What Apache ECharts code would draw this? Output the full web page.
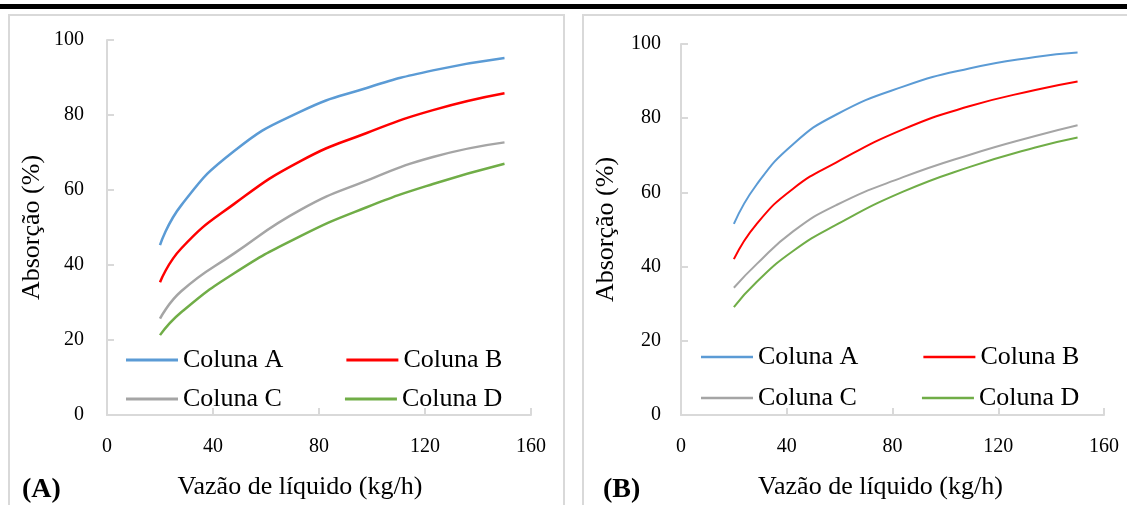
<!DOCTYPE html>
<html>
<head>
<meta charset="utf-8">
<script src="https://cdn.jsdelivr.net/npm/echarts@6/dist/echarts.min.js"></script>
<style>
    html, body { margin: 0; padding: 0; background: #fff; }
    #chart { width: 1127px; height: 505px; }
</style>
</head>
<body>
<div id="chart"></div>
<script>
const seriesNames = ['Coluna A', 'Coluna B', 'Coluna C', 'Coluna D'];
const colors = ['#5B9BD5', '#FF0000', '#A5A5A5', '#70AD47'];
const xTicks = [0, 40, 80, 120, 160];
const yTicks = [0, 20, 40, 60, 80, 100];

// painel (A)
const vazaoA = [20, 28, 48, 73, 98, 123, 150];
const colA_A = [45.3, 55.9, 70.4, 80.9, 87.2, 91.9, 95.2];
const colB_A = [35.4, 44.4, 56.3, 67.7, 75.2, 81.3, 85.8];
const colC_A = [25.7, 33.0, 43.1, 54.7, 62.5, 68.8, 72.7];
const colD_A = [21.3, 27.4, 37.8, 47.7, 55.4, 61.6, 67.0];

// painel (B)
const vazaoB = [20, 28.5, 42.4, 58.8, 84, 109, 134, 150];
const colA_B = [51.5, 62.0, 73.0, 81.0, 88.5, 93.4, 96.5, 97.7];
const colB_B = [42.0, 51.4, 61.0, 68.1, 77.0, 83.2, 87.6, 89.9];
const colC_B = [34.3, 40.6, 49.5, 56.6, 64.1, 70.1, 75.2, 78.1];
const colD_B = [29.1, 35.8, 44.2, 51.3, 60.2, 66.8, 72.1, 74.8];

const FONT = '"Liberation Serif", "Times New Roman", serif';
const AXIS_GRAY = '#D9D9D9';

const chart = echarts.init(document.getElementById('chart'));

const pairs = (xs, ys) => xs.map((x, i) => [x, ys[i]]);

function makeSeries(idx, xs, cols, width) {
    return cols.map((ys, i) => ({
        name: seriesNames[i],
        type: 'line',
        xAxisIndex: idx,
        yAxisIndex: idx,
        data: pairs(xs, ys),
        smooth: 0.5,
        symbol: 'none',
        lineStyle: { color: colors[i], width: width },
        itemStyle: { color: colors[i] },
    }));
}

function xAxis(idx, pad) {
    return {
        gridIndex: idx,
        type: 'value',
        min: xTicks[0],
        max: xTicks[xTicks.length - 1],
        interval: 40,
        name: 'Vazão de líquido (kg/h)',
        nameLocation: 'middle',
        nameGap: 59,
        nameTextStyle: { fontFamily: FONT, fontSize: 26, color: '#000', padding: [0, pad, 0, 0] },
        axisLine: { show: true, lineStyle: { color: AXIS_GRAY, width: 2 } },
        axisTick: { show: true, inside: true, length: 7, lineStyle: { color: AXIS_GRAY, width: 2 } },
        axisLabel: { fontFamily: FONT, fontSize: 20, color: '#000', margin: 22 },
        splitLine: { show: false },
    };
}

function yAxis(idx, margin) {
    return {
        gridIndex: idx,
        type: 'value',
        min: yTicks[0],
        max: yTicks[yTicks.length - 1],
        interval: 20,
        name: 'Absorção (%)',
        nameLocation: 'middle',
        nameRotate: 90,
        nameGap: 62,
        nameTextStyle: { fontFamily: FONT, fontSize: 26, color: '#000' },
        axisLine: { show: true, lineStyle: { color: AXIS_GRAY, width: 2 } },
        axisTick: { show: true, inside: true, length: 7, lineStyle: { color: AXIS_GRAY, width: 2 } },
        axisLabel: { fontFamily: FONT, fontSize: 20, color: '#000', margin: margin },
        splitLine: { show: false },
    };
}

// legenda em duas linhas por painel, icone so com a linha
function legend(names, left, top, gap, h) {
    return {
        data: names,
        left: left,
        top: top,
        orient: 'horizontal',
        icon: 'rect',
        itemWidth: 52,
        itemHeight: h,
        itemGap: gap,
        padding: 0,
        selectedMode: false,
        textStyle: { fontFamily: FONT, fontSize: 26, color: '#000' },
    };
}

const option = {
    animation: false,
    backgroundColor: '#fff',
    grid: [
        { left: 107, top: 40, width: 424, height: 380 },
        { left: 681, top: 44, width: 423, height: 376 },
    ],
    xAxis: [xAxis(0, 38), xAxis(1, 24)],
    yAxis: [yAxis(0, 23), yAxis(1, 20)],
    legend: [
        legend(['Coluna A', 'Coluna B'], 126, 347, 63, 3),
        legend(['Coluna C', 'Coluna D'], 126, 386, 63, 3),
        legend(['Coluna A', 'Coluna B'], 701, 344, 65, 2.5),
        legend(['Coluna C', 'Coluna D'], 701, 385, 65, 2.5),
    ],
    series: [
        ...makeSeries(0, vazaoA, [colA_A, colB_A, colC_A, colD_A], 2.5),
        ...makeSeries(1, vazaoB, [colA_B, colB_B, colC_B, colD_B], 2),
    ],
    graphic: [
        { type: 'rect', shape: { x: 0, y: 4, width: 1127, height: 5 }, style: { fill: '#000' }, silent: true },
        { type: 'rect', shape: { x: 9, y: 15, width: 555, height: 520 }, style: { fill: 'none', stroke: AXIS_GRAY, lineWidth: 2 }, silent: true },
        { type: 'rect', shape: { x: 583, y: 15, width: 560, height: 520 }, style: { fill: 'none', stroke: AXIS_GRAY, lineWidth: 2 }, silent: true },
        { type: 'text', left: 22, top: 476, style: { text: '(A)', font: 'bold 28px ' + FONT, fill: '#000' } },
        { type: 'text', left: 603, top: 476, style: { text: '(B)', font: 'bold 28px ' + FONT, fill: '#000' } },
    ],
};

chart.setOption(option);
</script>
</body>
</html>
